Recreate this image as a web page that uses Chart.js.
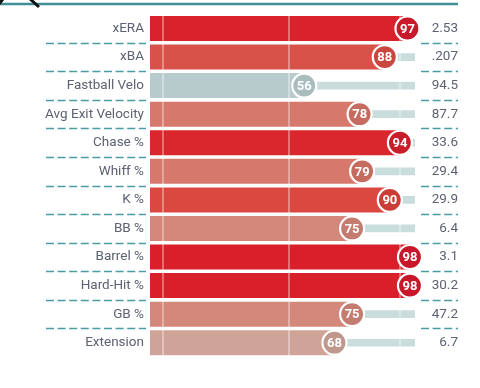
<!DOCTYPE html>
<html lang="en">
<head>
<meta charset="UTF-8">
<title>Percentile Rankings</title>
<script src="https://cdn.jsdelivr.net/npm/chart.js"></script>
<style>
  html, body { margin: 0; padding: 0; background: #fff; }
  #wrap { width: 480px; height: 388px; position: relative; }
</style>
</head>
<body>
<div id="wrap"><canvas id="pctChart"></canvas></div>
<script>
// stats shown on the left
const stats = ['xERA', 'xBA', 'Fastball Velo', 'Avg Exit Velocity', 'Chase %', 'Whiff %',
  'K %', 'BB %', 'Barrel %', 'Hard-Hit %', 'GB %', 'Extension'];
// percentile rank (number in the circle)
const percentiles = [97, 88, 56, 78, 94, 79, 90, 75, 98, 98, 75, 68];
// raw stat value on the right
const rawValues = ['2.53', '.207', '94.5', '87.7', '33.6', '29.4', '29.9', '6.4', '3.1', '30.2', '47.2', '6.7'];

// colours (bar / circle) for each row
const barColors = ['#d9222b', '#d9524a', '#b8cbcc', '#d6796c', '#d9272d', '#d6796c',
  '#da4840', '#d4877b', '#d9202a', '#d9202a', '#d4877b', '#cfa398'];
const dotColors = ['#c8192a', '#c9473f', '#a9bdbd', '#c66b60', '#c81e2b', '#c66b60',
  '#ca3e37', '#c47b70', '#c8172a', '#c8172a', '#c47b70', '#bf978c'];

const X_MIN = -5.3, X_MAX = 100;
const teal = '#4a9ca2';

// track behind each bar, from the value up to 100
const trackData = percentiles.map(p => [p, X_MAX]);
const barData = percentiles.map(p => [X_MIN, p]);
const dotData = percentiles.map((p, i) => ({ x: p, y: stats[i] }));

const decoPlugin = {
  id: 'deco',
  beforeDraw(chart) {
    const c = chart.ctx;
    const y = chart.scales.y;
    c.save();
    // top rule
    c.strokeStyle = '#3f9095';
    c.lineWidth = 2.5;
    c.beginPath(); c.moveTo(0, 4); c.lineTo(458, 4); c.stroke();
    // bit of the icon peeking from the header
    c.strokeStyle = '#111';
    c.lineWidth = 3;
    c.beginPath(); c.moveTo(29, -2); c.lineTo(39, 7); c.stroke();
    c.beginPath(); c.moveTo(-1, 4); c.lineTo(3, -1); c.stroke();
    // dashed separators between rows
    c.strokeStyle = teal;
    c.lineWidth = 1.6;
    c.setLineDash([8, 3.6]);
    for (let i = 0; i < stats.length - 1; i++) {
      const yy = Math.round((y.getPixelForValue(i) + y.getPixelForValue(i + 1)) / 2) + 0.5;
      c.beginPath(); c.moveTo(46, yy); c.lineTo(146, yy); c.stroke();
      c.beginPath(); c.moveTo(421, yy); c.lineTo(458, yy); c.stroke();
    }
    c.restore();
  },
  beforeDatasetDraw(chart, args) {
    // faint vertical guides over bars and tracks, under the circles
    if (args.index !== 2) return;
    const c = chart.ctx;
    const x = chart.scales.x;
    const area = chart.chartArea;
    c.save();
    c.strokeStyle = 'rgba(255,255,255,0.35)';
    c.lineWidth = 2;
    [0, 50, 94].forEach(v => {
      const xx = Math.round(x.getPixelForValue(v));
      c.beginPath(); c.moveTo(xx, area.top); c.lineTo(xx, area.bottom); c.stroke();
    });
    c.restore();
  },
  afterDatasetsDraw(chart) {
    const c = chart.ctx;
    const meta = chart.getDatasetMeta(2);
    c.save();
    c.fillStyle = '#fff';
    c.font = 'bold 13px Roboto, "DejaVu Sans", sans-serif';
    c.textAlign = 'center';
    c.textBaseline = 'middle';
    meta.data.forEach((pt, i) => {
      c.fillText(String(percentiles[i]), pt.x, pt.y + 1);
    });
    c.restore();
  }
};

const ctx = document.getElementById('pctChart').getContext('2d');
new Chart(ctx, {
  type: 'bar',
  data: {
    labels: stats,
    datasets: [
      {
        label: 'track',
        data: trackData,
        backgroundColor: '#cadddd',
        barThickness: 7,
        grouped: false,
        order: 2
      },
      {
        label: 'percentile',
        data: barData,
        backgroundColor: barColors,
        categoryPercentage: 1,
        barPercentage: 0.875,
        grouped: false,
        order: 1
      },
      {
        type: 'scatter',
        label: 'dots',
        data: dotData,
        clip: false,
        pointRadius: 12,
        pointHoverRadius: 12,
        pointBackgroundColor: dotColors,
        pointBorderColor: '#fff',
        pointBorderWidth: 2.2,
        order: 0
      }
    ]
  },
  options: {
    indexAxis: 'y',
    responsive: true,
    maintainAspectRatio: false,
    animation: false,
    layout: { padding: { top: 14, bottom: 31, left: 0, right: 22 } },
    plugins: { legend: { display: false }, tooltip: { enabled: false } },
    scales: {
      x: { type: 'linear', min: X_MIN, max: X_MAX, display: false },
      y: {
        type: 'category',
        offset: true,
        grid: { display: false, drawTicks: false },
        border: { display: false },
        ticks: {
          color: '#5d6272',
          font: { family: 'Roboto', size: 13.5 },
          padding: 6
        },
        afterFit: s => { s.width = 150; }
      },
      y2: {
        type: 'category',
        labels: rawValues,
        position: 'right',
        offset: true,
        grid: { display: false, drawTicks: false },
        border: { display: false },
        ticks: {
          color: '#5d6272',
          font: { family: 'Roboto', size: 13.5 },
          crossAlign: 'far',
          padding: 0
        },
        afterFit: s => { s.width = 43; }
      }
    }
  },
  plugins: [decoPlugin]
});
</script>
</body>
</html>
